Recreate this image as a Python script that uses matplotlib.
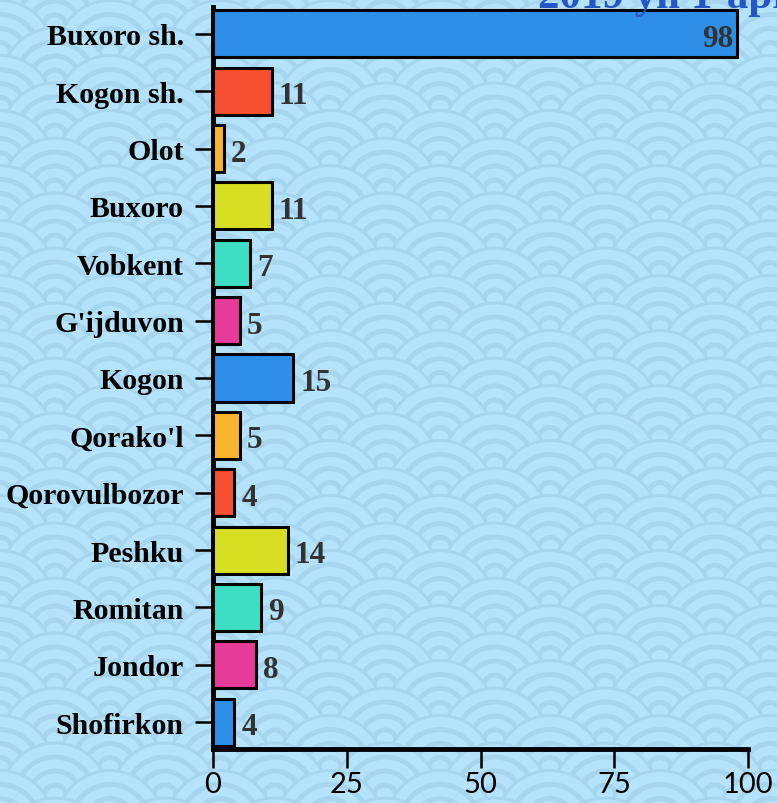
import numpy as np
import matplotlib
matplotlib.use("Agg")
import matplotlib.pyplot as plt
from matplotlib.patches import Circle
from matplotlib.collections import PatchCollection

districts = ["Buxoro sh.", "Kogon sh.", "Olot", "Buxoro", "Vobkent", "G'ijduvon",
             "Kogon", "Qorako'l", "Qorovulbozor", "Peshku", "Romitan", "Jondor", "Shofirkon"]
values = [98, 11, 2, 11, 7, 5, 15, 5, 4, 14, 9, 8, 4]
bar_colors = ["#2e8fe8", "#f75030", "#f8b62c", "#d8de22", "#3ddfc4", "#e63b99",
              "#2e8fe8", "#f8b62c", "#f75030", "#d8de22", "#3ddfc4", "#e63b99", "#2e8fe8"]
x_ticks = [0, 25, 50, 75, 100]
title = "2019 yil 1-aprel holatiga"

W, H = 777, 804
fig = plt.figure(figsize=(W / 100, H / 100), dpi=100)

# ---- seigaiha wave background ----
bg = fig.add_axes([0, 0, 1, 1], zorder=0)
bg.set_xlim(0, W)
bg.set_ylim(H, 0)
bg.axis("off")
light, dark = "#b5e3fb", "#a6d5ee"
R = 55
rings = [(55, dark), (52, light), (42, dark), (37, light), (28, dark), (23, light), (14, dark), (9, light)]
patches, cols = [], []
for j, cy in enumerate(np.arange(-R, H + R, R / 2)):
    off = 0 if j % 2 == 0 else R
    for cx in np.arange(-2 * R + off, W + 2 * R, 2 * R):
        for r, c in rings:
            patches.append(Circle((cx, cy), r))
            cols.append(c)
pc = PatchCollection(patches, facecolors=cols, edgecolors="none")
bg.add_collection(pc)
fig.patch.set_facecolor(light)

# ---- bar chart ----
ax = fig.add_axes([213 / W, 1 - 750 / H, 535 / W, 742 / H], zorder=1)
ax.patch.set_alpha(0)
y = np.arange(len(districts))
ax.barh(y, values, height=0.82, color=bar_colors, edgecolor="black", linewidth=2.2, zorder=3)
ax.set_ylim(12.47, -0.47)
ax.set_xlim(0, 100)

for yi, v in zip(y, values):
    if v > 90:
        ax.text(v - 0.8, yi + 0.08, str(v), ha="right", va="center", fontsize=22.5,
                fontweight="bold", family="Liberation Serif", color="#333333", zorder=4)
    else:
        ax.text(v + 1.3, yi + 0.08, str(v), ha="left", va="center", fontsize=22.5,
                fontweight="bold", family="Liberation Serif", color="#333333", zorder=4)

ax.set_yticks(y)
ax.set_yticklabels(districts, fontsize=21.5, fontweight="bold", family="Liberation Serif")
ax.set_xticks(x_ticks)
ax.set_xticklabels([str(t) for t in x_ticks], fontsize=21, family="Lato")
ax.tick_params(axis="y", length=13, width=1.8, pad=8)
ax.tick_params(axis="x", length=14, width=1.8, pad=2)
for s in ["top", "right"]:
    ax.spines[s].set_visible(False)
ax.spines["left"].set_linewidth(3.5)
ax.spines["bottom"].set_linewidth(3.5)

fig.text(538 / W, 1 - 8 / H, title, ha="left", va="baseline", fontsize=31,
         fontweight="bold", family="Liberation Serif", color="#2357c8", zorder=2)

fig.savefig("out.png", dpi=100, facecolor=light)
